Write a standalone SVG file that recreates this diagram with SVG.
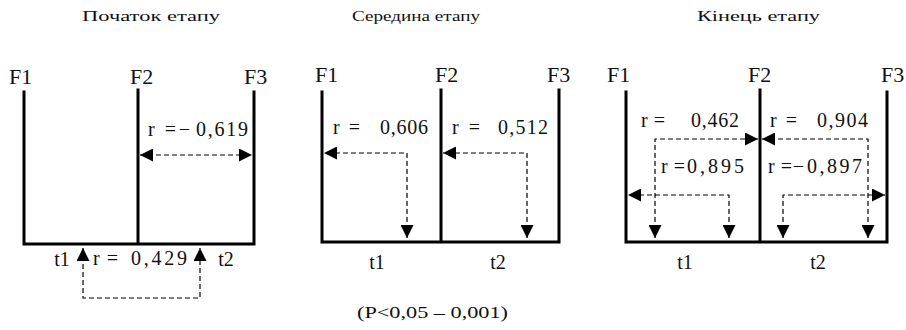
<svg xmlns="http://www.w3.org/2000/svg" width="906" height="330" viewBox="0 0 906 330">
<style>
text{font-family:"Liberation Serif","Times New Roman",serif;fill:#111}
.title{font-size:15px}
.f{font-size:22px}
.r{font-size:20px}
.t{font-size:20px;text-anchor:middle}
.note{font-size:17px}
.axis{fill:none;stroke:#000;stroke-width:3;stroke-linecap:square}
.c{fill:none;stroke:#000;stroke-width:1.2;stroke-dasharray:5 3;marker-start:url(#ah);marker-end:url(#ah)}
</style>
<defs>
<marker id="ah" viewBox="0 0 12 12" refX="12" refY="6" markerWidth="13" markerHeight="13" markerUnits="userSpaceOnUse" orient="auto-start-reverse">
<path d="M0,0 L12,6 L0,12 z" fill="#000"/>
</marker>
</defs>

<g id="titles">
<text class="title" x="82" y="21" textLength="138" lengthAdjust="spacingAndGlyphs">Початок етапу</text>
<text class="title" x="352" y="21" textLength="128" lengthAdjust="spacingAndGlyphs">Середина етапу</text>
<text class="title" x="697" y="21" textLength="123" lengthAdjust="spacingAndGlyphs">Кінець етапу</text>
</g>

<g id="panel1">
<path class="axis" d="M24,92 L24,244 L254,244 L254,92 M138,90 L138,244"/>
<text class="f" x="9" y="84">F1</text>
<text class="f" x="130" y="84">F2</text>
<text class="f" x="244" y="84">F3</text>
<text class="r" x="148" y="136" textLength="42" lengthAdjust="spacing">r =−</text>
<text class="r" x="196" y="136" textLength="52" lengthAdjust="spacing">0,619</text>
<text class="r" x="93" y="265" textLength="25" lengthAdjust="spacing">r =</text>
<text class="r" x="131" y="265" textLength="56" lengthAdjust="spacing">0,429</text>
<text class="t" x="62" y="266">t1</text>
<text class="t" x="226" y="266">t2</text>
</g>

<g id="panel2">
<path class="axis" d="M322,92 L322,242 L559,242 L559,90 M441,90 L441,242"/>
<text class="f" x="315" y="82">F1</text>
<text class="f" x="435" y="82">F2</text>
<text class="f" x="547" y="82">F3</text>
<text class="r" x="333" y="134" textLength="27" lengthAdjust="spacing">r =</text>
<text class="r" x="380" y="134" textLength="48" lengthAdjust="spacing">0,606</text>
<text class="r" x="452" y="134" textLength="28" lengthAdjust="spacing">r =</text>
<text class="r" x="498" y="134" textLength="50" lengthAdjust="spacing">0,512</text>
<text class="t" x="377" y="269">t1</text>
<text class="t" x="498" y="269">t2</text>
</g>

<g id="panel3">
<path class="axis" d="M626,92 L626,242 L887,242 L887,92 M760,90 L760,242"/>
<text class="f" x="607" y="82">F1</text>
<text class="f" x="748" y="82">F2</text>
<text class="f" x="881" y="82">F3</text>
<text class="r" x="641" y="127" textLength="24" lengthAdjust="spacing">r =</text>
<text class="r" x="691" y="127" textLength="48" lengthAdjust="spacing">0,462</text>
<text class="r" x="661" y="173" textLength="24" lengthAdjust="spacing">r =</text>
<text class="r" x="687" y="173" textLength="57" lengthAdjust="spacing">0,895</text>
<text class="r" x="770" y="127" textLength="27" lengthAdjust="spacing">r =</text>
<text class="r" x="817" y="127" textLength="51" lengthAdjust="spacing">0,904</text>
<text class="r" x="768" y="173" textLength="36" lengthAdjust="spacing">r =−</text>
<text class="r" x="807" y="173" textLength="55" lengthAdjust="spacing">0,897</text>
<text class="t" x="685" y="269">t1</text>
<text class="t" x="818" y="269">t2</text>
</g>

<g id="note">
<text class="note" x="357" y="318" textLength="151" lengthAdjust="spacingAndGlyphs">(P&lt;0,05 – 0,001)</text>
</g>

<g id="connectors">
<path class="c" d="M140,155 L252,155"/>
<path class="c" d="M83,248 L83,298 L200,298 L200,248"/>
<path class="c" d="M407,238 L407,153 L324,153"/>
<path class="c" d="M527,238 L527,153 L443,153"/>
<path class="c" d="M655,238 L655,139 L758,139"/>
<path class="c" d="M729,238 L729,195 L628,195"/>
<path class="c" d="M868,238 L868,139 L762,139"/>
<path class="c" d="M783,238 L783,195 L885,195"/>
</g>
</svg>
